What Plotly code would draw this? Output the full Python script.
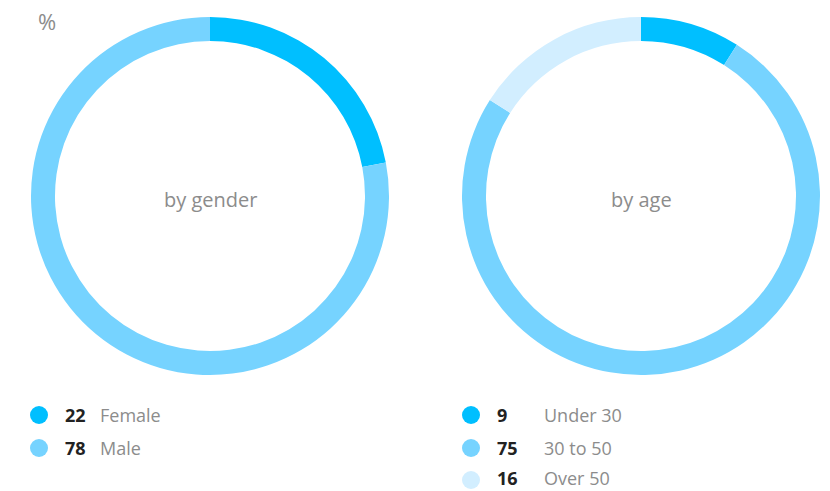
import plotly.graph_objects as go

W, H = 830, 491

gender_labels = ["Female", "Male"]
gender_values = [22, 78]
age_labels = ["Under 30", "30 to 50", "Over 50"]
age_values = [9, 75, 16]

deep = "#00BFFF"
mid = "#76D3FF"
light = "#D2EEFF"
gender_colors = [deep, mid]
age_colors = [deep, mid, light]

FONT = "Open Sans"
GRAY = "#8c8c8c"
DARK = "#222222"


def px_x(a, b):
    return [a / W, b / W]


def px_y(top, bottom):
    return [1 - bottom / H, 1 - top / H]


fig = go.Figure()

for labels, values, colors, cx, name in [
    (gender_labels, gender_values, gender_colors, 210, "by gender"),
    (age_labels, age_values, age_colors, 641, "by age"),
]:
    r = 179
    fig.add_trace(go.Pie(
        labels=labels, values=values,
        marker=dict(colors=colors, line=dict(width=0)),
        hole=0.866, sort=False, direction="clockwise", rotation=0,
        textinfo="none", hoverinfo="label+value",
        domain=dict(x=px_x(cx - r, cx + r), y=px_y(196 - r, 196 + r)),
        showlegend=False, name=name,
    ))
    fig.add_annotation(
        x=cx, y=199, xref="x", yref="y", text=name, showarrow=False,
        font=dict(family=FONT, size=20, color=GRAY),
    )

# legend rows: dot, bold value, label
legend_rows = [
    (gender_labels, gender_values, gender_colors, 39, 63, 98),
    (age_labels, age_values, age_colors, 471, 495, 542),
]
row_y = [415, 448, 480]
text_y = [415, 448, 478]
for labels, values, colors, dot_x, num_x, lab_x in legend_rows:
    n = len(labels)
    fig.add_trace(go.Scatter(
        x=[dot_x] * n, y=row_y[:n], mode="markers",
        marker=dict(size=18, color=colors, line=dict(width=0)),
        hoverinfo="skip", showlegend=False,
    ))
    for lab, val, y in zip(labels, values, text_y[:n]):
        fig.add_annotation(
            x=num_x, y=y, xref="x", yref="y", text=f"<b>{val}</b>",
            showarrow=False, xanchor="left",
            font=dict(family=FONT, size=18, color=DARK),
        )
        fig.add_annotation(
            x=lab_x, y=y, xref="x", yref="y", text=lab,
            showarrow=False, xanchor="left",
            font=dict(family=FONT, size=18, color=GRAY),
        )

fig.add_annotation(
    x=36, y=21, xref="x", yref="y", text="%", showarrow=False, xanchor="left",
    font=dict(family=FONT, size=22, color=GRAY),
)

fig.update_layout(
    width=W, height=H, margin=dict(l=0, r=0, t=0, b=0),
    paper_bgcolor="white", plot_bgcolor="rgba(0,0,0,0)",
    xaxis=dict(range=[0, W], visible=False, fixedrange=True),
    yaxis=dict(range=[H, 0], visible=False, fixedrange=True),
)

fig.write_html("out.html")
